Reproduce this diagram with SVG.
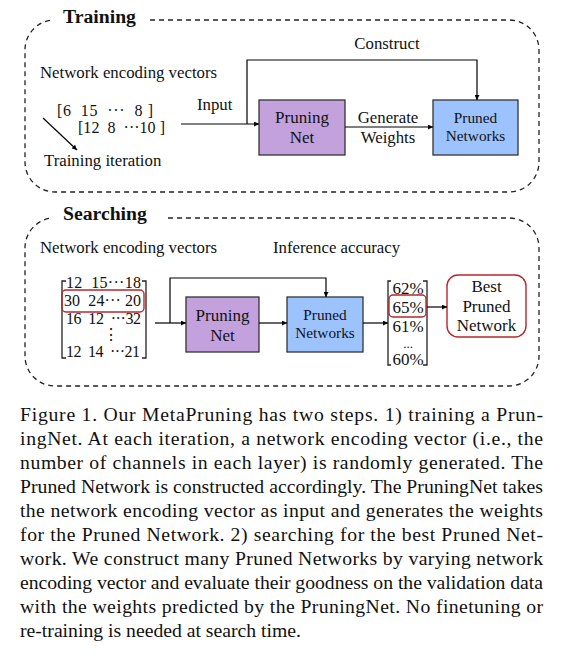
<svg xmlns="http://www.w3.org/2000/svg" width="562" height="656" viewBox="0 0 562 656">
<defs>
<marker id="ah" viewBox="0 0 10 10" refX="10" refY="5" markerWidth="5" markerHeight="5" orient="auto" markerUnits="userSpaceOnUse"><path d="M0,0 L10,5 L0,10 z" fill="#000"/></marker>
<style>
.t{font-family:"Liberation Serif","Times New Roman",serif;fill:#111}
.d{font-size:16.8px}
.h{font-size:19.7px;font-weight:bold}
.m{font-size:16px}
.s{font-size:15.3px}
.p{font-size:17px}
.c{font-size:19.7px}
.mid{text-anchor:middle}
.border{fill:none;stroke:#222;stroke-width:1.3;stroke-dasharray:5 4}
.arr{fill:none;stroke:#000;stroke-width:1.2;marker-end:url(#ah)}
.pn{fill:#C3A1DD;stroke:#333;stroke-width:1.3}
.pw{fill:#9DC3FF;stroke:#333;stroke-width:1.3}
.red{fill:none;stroke:#B5282C;stroke-width:1.4}
.br{fill:none;stroke:#222;stroke-width:1.3}
</style>
</defs>
<rect width="562" height="656" fill="#fff"/>

<!-- Training section -->
<g id="training-frame">
<path class="border" d="M150 20 H509 A30 30 0 0 1 539 50 V162 A30 30 0 0 1 509 192 H55 A30 30 0 0 1 25 162 V50 A30 30 0 0 1 52 20"/>
<text class="t h" x="63" y="23">Training</text>
</g>
<g id="t-vectors">
<text class="t d" x="40" y="78">Network encoding vectors</text>
<text class="t m" x="57" y="116" textLength="96" lengthAdjust="spacing" xml:space="preserve">[6  15  ···  8 ]</text>
<text class="t m" x="78" y="133" textLength="87" lengthAdjust="spacing" xml:space="preserve">[12  8  ···10 ]</text>
<text class="t d" x="44" y="166">Training iteration</text>
</g>
<g id="t-pruningnet">
<rect class="pn" x="259" y="100" width="86" height="55"/>
<text class="t p mid" x="302" y="123">Pruning</text>
<text class="t p mid" x="302" y="143">Net</text>
</g>
<g id="t-pruned">
<rect class="pw" x="433" y="100" width="85" height="55"/>
<text class="t s mid" x="475.5" y="123">Pruned</text>
<text class="t s mid" x="475.5" y="141">Networks</text>
</g>
<g id="t-connectors">
<line class="arr" x1="43" y1="118" x2="77" y2="150"/>
<line class="arr" x1="181" y1="124" x2="259" y2="124"/>
<polyline class="arr" points="247,124 247,60 477,60 477,100"/>
<line class="arr" x1="345" y1="127" x2="433" y2="127"/>
<text class="t d" x="197" y="110">Input</text>
<text class="t d mid" x="387" y="49">Construct</text>
<text class="t d mid" x="388" y="123">Generate</text>
<text class="t d mid" x="388" y="143">Weights</text>
</g>

<!-- Searching section -->
<g id="searching-frame">
<path class="border" d="M168 218 H509 A30 30 0 0 1 539 248 V356 A30 30 0 0 1 509 386 H55 A30 30 0 0 1 25 356 V248 A30 30 0 0 1 52 218"/>
<text class="t h" x="63" y="220">Searching</text>
</g>
<g id="s-matrix">
<text class="t d" x="40" y="253">Network encoding vectors</text>
<path class="br" d="M66 281 H62 V358 H66"/>
<path class="br" d="M142 281 H146 V358 H142"/>
<text class="t m" x="66" y="288" textLength="75" lengthAdjust="spacing" xml:space="preserve">12  15···18</text>
<text class="t m" x="64" y="306" textLength="77" lengthAdjust="spacing" xml:space="preserve">30  24··· 20</text>
<text class="t m" x="66" y="324" textLength="75" lengthAdjust="spacing" xml:space="preserve">16  12  ···32</text>
<text class="t m" x="103" y="340">⋮</text>
<text class="t m" x="66" y="357" textLength="74" lengthAdjust="spacing" xml:space="preserve">12  14  ···21</text>
<rect class="red" x="62" y="290" width="82" height="22" rx="4"/>
</g>
<g id="s-pruningnet">
<rect class="pn" x="186" y="297" width="73" height="55"/>
<text class="t p mid" x="222.5" y="321">Pruning</text>
<text class="t p mid" x="222.5" y="341">Net</text>
</g>
<g id="s-pruned">
<rect class="pw" x="287" y="297" width="76" height="55"/>
<text class="t s mid" x="325" y="320">Pruned</text>
<text class="t s mid" x="325" y="338">Networks</text>
</g>
<g id="s-accuracy">
<text class="t d" x="273" y="253">Inference accuracy</text>
<path class="br" d="M391 281 H388 V365 H391"/>
<path class="br" d="M423 281 H427 V365 H423"/>
<text class="t p mid" x="408" y="294">62%</text>
<text class="t p mid" x="408" y="313">65%</text>
<text class="t p mid" x="408" y="332">61%</text>
<text class="t mid" style="font-size:13px" x="408" y="348">...</text>
<text class="t p mid" x="408" y="365">60%</text>
<rect class="red" x="389" y="295" width="37" height="22" rx="4"/>
</g>
<g id="s-best">
<rect class="red" x="447" y="275" width="79" height="62" rx="11"/>
<text class="t p mid" x="486.5" y="292">Best</text>
<text class="t p mid" x="486.5" y="312">Pruned</text>
<text class="t p mid" x="486.5" y="331">Network</text>
</g>
<g id="s-connectors">
<line class="arr" x1="155" y1="323" x2="186" y2="323"/>
<polyline class="arr" points="170,323 170,278 326,278 326,297"/>
<line class="arr" x1="259" y1="323" x2="287" y2="323"/>
<line class="arr" x1="363" y1="323" x2="388" y2="323"/>
<line class="arr" x1="427" y1="307" x2="447" y2="307"/>
</g>

<!-- Caption -->
<g id="caption" class="t c">
<text x="20" y="421" textLength="523" lengthAdjust="spacing">Figure 1. Our MetaPruning has two steps.  1) training a Prun-</text>
<text x="20" y="445" textLength="523" lengthAdjust="spacing">ingNet.  At each iteration, a network encoding vector (i.e., the</text>
<text x="20" y="469" textLength="523" lengthAdjust="spacing">number of channels in each layer) is randomly generated.  The</text>
<text x="20" y="493" textLength="523" lengthAdjust="spacing">Pruned Network is constructed accordingly. The PruningNet takes</text>
<text x="20" y="517" textLength="523" lengthAdjust="spacing">the network encoding vector as input and generates the weights</text>
<text x="20" y="541" textLength="523" lengthAdjust="spacing">for the Pruned Network.  2) searching for the best Pruned Net-</text>
<text x="20" y="565" textLength="523" lengthAdjust="spacing">work.  We construct many Pruned Networks by varying network</text>
<text x="20" y="589" textLength="523" lengthAdjust="spacing">encoding vector and evaluate their goodness on the validation data</text>
<text x="20" y="613" textLength="523" lengthAdjust="spacing">with the weights predicted by the PruningNet.  No finetuning or</text>
<text x="20" y="637">re-training is needed at search time.</text>
</g>
</svg>
